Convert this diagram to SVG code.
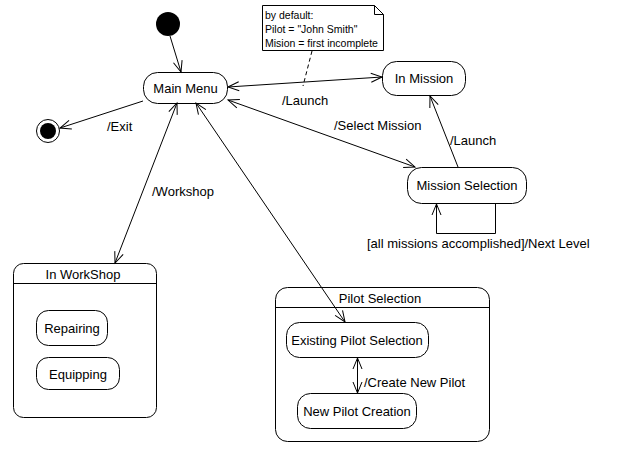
<svg xmlns="http://www.w3.org/2000/svg" width="617" height="468" viewBox="0 0 617 468">
  <style>
    .st { fill: #fff; stroke: #000; stroke-width: 1; }
    .lbl { font-family: "Liberation Sans", Arial, sans-serif; font-size: 13px; fill: #000; }
    .note { font-family: "Liberation Sans", Arial, sans-serif; font-size: 10.5px; fill: #000; }
    .cn { fill: none; stroke: #000; stroke-width: 1; }
  </style>
  <defs>
    <marker id="arr" markerUnits="userSpaceOnUse" markerWidth="14" markerHeight="12" viewBox="-12 -6 14 12" refX="0" refY="0" orient="auto-start-reverse">
      <path d="M-11,-4.5 L0,0 L-11,4.5" fill="none" stroke="#000" stroke-width="1"/>
    </marker>
  </defs>
  <rect width="617" height="468" fill="#fff"/>

  <!-- initial and final pseudo-states -->
  <g id="initial"><circle cx="168" cy="24" r="12" fill="#000"/></g>
  <g id="final">
    <circle cx="48" cy="131" r="11.5" fill="#fff" stroke="#000"/>
    <circle cx="48" cy="131" r="8" fill="#000"/>
  </g>

  <!-- states -->
  <g id="main-menu">
    <rect class="st" x="143.5" y="72.5" width="84" height="31" rx="14"/>
    <text class="lbl" x="185.5" y="93" text-anchor="middle">Main Menu</text>
  </g>
  <g id="in-mission">
    <rect class="st" x="382.5" y="61.5" width="83" height="34" rx="14"/>
    <text class="lbl" x="424" y="83" text-anchor="middle">In Mission</text>
  </g>
  <g id="mission-selection">
    <rect class="st" x="407.5" y="167.5" width="119" height="36" rx="14"/>
    <text class="lbl" x="467" y="190" text-anchor="middle">Mission Selection</text>
  </g>
  <g id="in-workshop">
    <rect class="st" x="13.5" y="263.5" width="143" height="154" rx="10"/>
    <line x1="13.5" y1="283.5" x2="156.5" y2="283.5" stroke="#000"/>
    <text class="lbl" x="83" y="279" text-anchor="middle">In WorkShop</text>
    <g id="repairing">
      <rect class="st" x="36.5" y="310.5" width="71" height="35" rx="12"/>
      <text class="lbl" x="72" y="333" text-anchor="middle">Repairing</text>
    </g>
    <g id="equipping">
      <rect class="st" x="36.5" y="357.5" width="83" height="32" rx="12"/>
      <text class="lbl" x="78" y="379" text-anchor="middle">Equipping</text>
    </g>
  </g>
  <g id="pilot-selection">
    <rect class="st" x="275.5" y="287.5" width="214" height="154" rx="12"/>
    <line x1="275.5" y1="307.5" x2="489.5" y2="307.5" stroke="#000"/>
    <text class="lbl" x="380" y="303" text-anchor="middle">Pilot Selection</text>
    <g id="existing-pilot">
      <rect class="st" x="286.5" y="322.5" width="142" height="35" rx="13"/>
      <text class="lbl" x="357" y="345" text-anchor="middle">Existing Pilot Selection</text>
    </g>
    <g id="new-pilot">
      <rect class="st" x="297.5" y="393.5" width="119" height="35" rx="13"/>
      <text class="lbl" x="357" y="416" text-anchor="middle">New Pilot Creation</text>
    </g>
  </g>

  <!-- note -->
  <g id="note">
    <path d="M262.5,5.5 H374.5 L383.5,14.5 V50.5 H262.5 Z" fill="#fff" stroke="#000"/>
    <path d="M374.5,5.5 V14.5 H383.5" fill="none" stroke="#000"/>
    <text class="note" x="265" y="19">by default:</text>
    <text class="note" x="265" y="33">Pilot = "John Smith"</text>
    <text class="note" x="265" y="47">Mision = first incomplete</text>
  </g>

  <!-- transitions -->
  <g id="connectors">
    <line class="cn" x1="170" y1="36" x2="181" y2="72" marker-end="url(#arr)"/>
    <line class="cn" x1="143" y1="101" x2="60" y2="128" marker-end="url(#arr)"/>
    <line class="cn" x1="228" y1="87" x2="382" y2="77" marker-start="url(#arr)" marker-end="url(#arr)"/>
    <line class="cn" x1="228" y1="100" x2="415" y2="167" marker-start="url(#arr)" marker-end="url(#arr)"/>
    <line class="cn" x1="177" y1="103" x2="115" y2="263" marker-start="url(#arr)" marker-end="url(#arr)"/>
    <line class="cn" x1="196" y1="103" x2="345" y2="322" marker-start="url(#arr)" marker-end="url(#arr)"/>
    <line class="cn" x1="458" y1="167" x2="430" y2="96" marker-end="url(#arr)"/>
    <polyline class="cn" points="495.5,204 495.5,233.5 436.5,233.5 436.5,204" marker-end="url(#arr)"/>
    <line class="cn" x1="357.5" y1="358" x2="357.5" y2="393" marker-start="url(#arr)" marker-end="url(#arr)"/>
    <line class="cn" x1="312" y1="51" x2="303" y2="86" stroke-dasharray="4,3"/>
  </g>

  <!-- transition labels -->
  <g id="labels">
    <text class="lbl" x="107" y="131">/Exit</text>
    <text class="lbl" x="282" y="105">/Launch</text>
    <text class="lbl" x="334" y="130">/Select Mission</text>
    <text class="lbl" x="450" y="145">/Launch</text>
    <text class="lbl" x="152" y="196">/Workshop</text>
    <text class="lbl" x="367" y="248">[all missions accomplished]/Next Level</text>
    <text class="lbl" x="364" y="387">/Create New Pilot</text>
  </g>
</svg>
